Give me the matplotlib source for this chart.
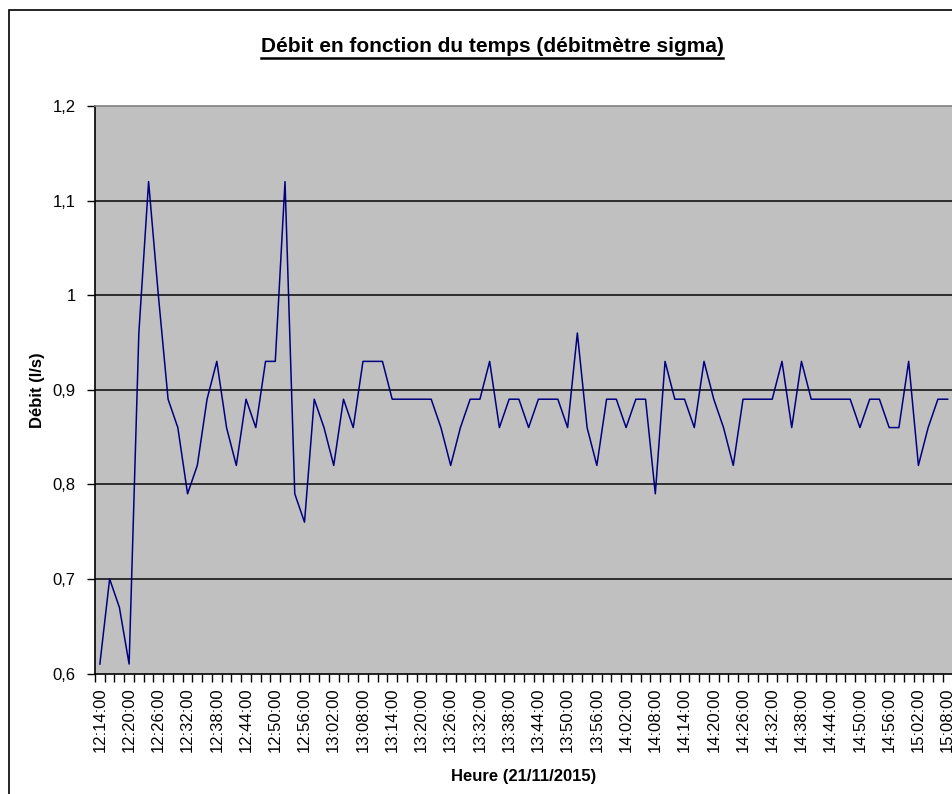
import matplotlib
matplotlib.use("Agg")
import matplotlib.pyplot as plt
from matplotlib.lines import Line2D
from matplotlib.patches import Rectangle
from datetime import datetime, timedelta

plt.rcParams['font.family'] = ['Liberation Sans', 'DejaVu Sans']

# Time stamps: one reading every 2 minutes, 21/11/2015
start = datetime(2015, 11, 21, 12, 14, 0)
n_points = 88
times = [(start + timedelta(minutes=2 * k)).strftime("%H:%M:%S") for k in range(n_points)]

# Flow readings (l/s)
debit = [
    0.61, 0.70, 0.67, 0.61, 0.96, 1.12, 1.00, 0.89, 0.86, 0.79,
    0.82, 0.89, 0.93, 0.86, 0.82, 0.89, 0.86, 0.93, 0.93, 1.12,
    0.79, 0.76, 0.89, 0.86, 0.82, 0.89, 0.86, 0.93, 0.93, 0.93,
    0.89, 0.89, 0.89, 0.89, 0.89, 0.86, 0.82, 0.86, 0.89, 0.89,
    0.93, 0.86, 0.89, 0.89, 0.86, 0.89, 0.89, 0.89, 0.86, 0.96,
    0.86, 0.82, 0.89, 0.89, 0.86, 0.89, 0.89, 0.79, 0.93, 0.89,
    0.89, 0.86, 0.93, 0.89, 0.86, 0.82, 0.89, 0.89, 0.89, 0.89,
    0.93, 0.86, 0.93, 0.89, 0.89, 0.89, 0.89, 0.89, 0.86, 0.89,
    0.89, 0.86, 0.86, 0.93, 0.82, 0.86, 0.89, 0.89,
]

y_ticks = [0.6, 0.7, 0.8, 0.9, 1.0, 1.1, 1.2]
y_tick_labels = ["0,6", "0,7", "0,8", "0,9", "1", "1,1", "1,2"]

title = "Débit en fonction du temps (débitmètre sigma)"
x_title = "Heure (21/11/2015)"
y_title = "Débit (l/s)"

W, H = 953, 794
fig = plt.figure(figsize=(W / 100, H / 100), dpi=100)
fig.patch.set_facecolor("white")

# chart-area frame
fig.patches.append(Rectangle((9 / W, -0.1), 1.2, 1 - 10 / H + 0.1,
                             transform=fig.transFigure, fill=False,
                             edgecolor="black", linewidth=1.2))

left, right, top, bottom = 95, 953, 106, 673.5
ax = fig.add_axes([left / W, 1 - bottom / H, (right - left) / W, (bottom - top) / H])
ax.set_facecolor("#C0C0C0")

x = list(range(n_points))
ax.plot(x, debit, color="#000080", linewidth=1.1, zorder=3)

ax.set_ylim(0.6, 1.2)
ax.set_xlim(-0.5, 87.55)
ax.set_yticks(y_ticks)
ax.set_yticklabels(y_tick_labels, fontsize=12)
for yv in y_ticks[1:-1]:
    ax.axhline(yv, color="#222222", linewidth=1.3, zorder=2)

# category labels every 3rd reading, tick marks at category boundaries
ax.set_xticks(x[::3])
ax.set_xticklabels(times[::3], rotation=90, fontsize=12)
ax.set_xticks([k - 0.5 for k in range(n_points + 1)], minor=True)
ax.tick_params(axis="x", which="major", length=0, pad=10)
ax.tick_params(axis="x", which="minor", length=6, width=1, direction="out", color="black")
ax.tick_params(axis="y", which="major", length=6, width=1, direction="out", pad=8)

for side in ("left", "bottom"):
    ax.spines[side].set_color("black")
    ax.spines[side].set_linewidth(1.2)
ax.spines["right"].set_visible(False)
ax.spines["top"].set_color("#808080")
ax.spines["top"].set_linewidth(1.2)

t = fig.text(492 / W, 1 - 47 / H, title, ha="center", va="center",
             fontsize=15, fontweight="bold")
fig.text(38 / W, 1 - 390 / H, y_title, ha="center", va="center",
         rotation=90, fontsize=12, fontweight="bold")
fig.text(524 / W, 1 - 776 / H, x_title, ha="center", va="center",
         fontsize=12, fontweight="bold")

# underline the title
fig.canvas.draw()
bb = t.get_window_extent().transformed(fig.transFigure.inverted())
fig.lines.append(Line2D([bb.x0, bb.x1], [bb.y0 - 1.5 / H, bb.y0 - 1.5 / H],
                        transform=fig.transFigure, color="black", linewidth=1.8))

fig.savefig("out.png", dpi=100)
